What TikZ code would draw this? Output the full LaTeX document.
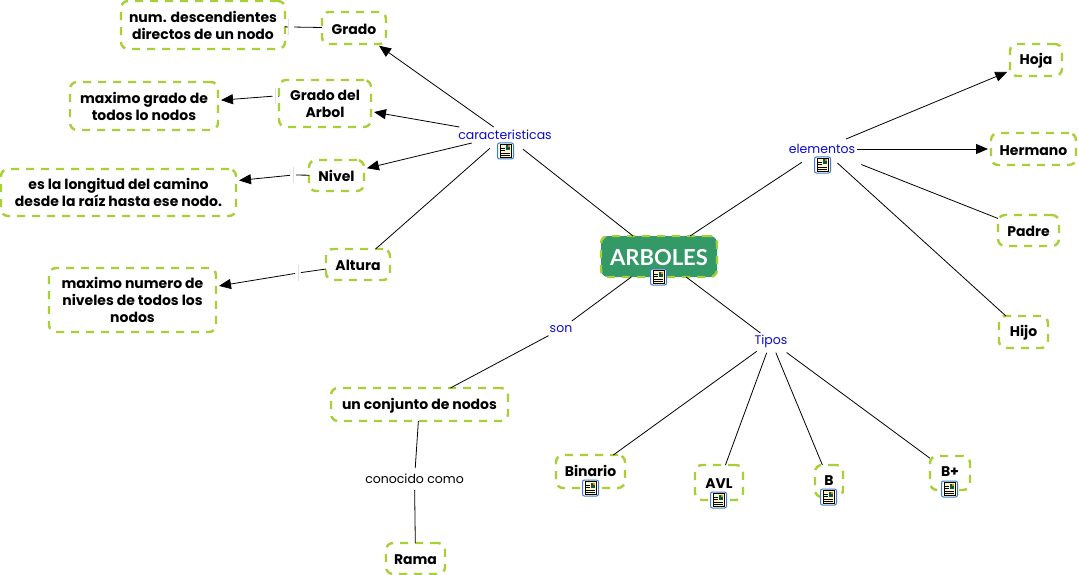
\documentclass[tikz,border=0pt]{standalone}
\usepackage{fontspec}
\setmainfont{Poppins}
\newfontfamily\titlefont{Lato}
\usetikzlibrary{arrows.meta}
\definecolor{dashgreen}{HTML}{A9CF38}
\definecolor{rootgreen}{HTML}{339966}
\definecolor{linkblue}{HTML}{0A0ACC}
\definecolor{iconblue}{HTML}{3C7FC8}
\definecolor{iconpaper}{HTML}{FFF6C0}
\tikzset{
  x=1pt,y=-1pt,
  concept/.style={draw=dashgreen,fill=white,line width=2.4pt,dash pattern=on 8pt off 7pt,rounded corners=7pt,
    inner sep=0pt,outer sep=0pt,align=center,text=black,font=\fontsize{14}{17}\selectfont\bfseries,
    execute at begin node={\rule{0pt}{13pt}}},
  rootnode/.style={concept,fill=rootgreen,text=white,font=\fontsize{22}{26}\selectfont\titlefont\bfseries,
    execute at begin node={\rule{0pt}{18pt}}},
  linkphrase/.style={inner sep=0pt,outer sep=0pt,align=center,text=linkblue,font=\fontsize{12.5}{15}\selectfont},
  blank/.style={inner sep=0pt,outer sep=0pt,minimum width=6pt,minimum height=16pt},
  conn/.style={draw=black,line width=0.8pt},
  arr/.style={conn,-{Triangle[length=12pt,width=10pt]},shorten >=3pt},
  ticktrace/.style={draw=black!12,line width=0.8pt},
  noteicon/.pic={
    \draw[iconblue,fill=white,line width=1pt,rounded corners=2pt] (-8,-8) rectangle (8,8);
    \fill[iconpaper] (-5.5,-6.5) rectangle (5.5,6.5);
    \draw[black,line width=0.5pt] (-5.5,-6.5) rectangle (5.5,6.5);
    \fill[teal!70!black] (0,-5.5) rectangle (4.5,-0.5);
    \fill[orange] (2.5,-5.5) rectangle (4.5,-3.5);
    \foreach \yy in {-3,-0.5,2,4.5}{\draw[black,line width=0.6pt] (-4.5,\yy) -- (\ifdim\yy pt<0pt -1\else 4.5\fi,\yy);}
  }
}
\begin{document}
\begin{tikzpicture}
\useasboundingbox (0,0) rectangle (1079,575);
% concepts
\node[concept,minimum width=164pt,minimum height=48pt] (num) at (203,25) {num. descendientes\\directos de un nodo};
\node[concept,minimum width=64pt,minimum height=32pt] (grado) at (354,28) {Grado};
\node[concept,minimum width=92pt,minimum height=47pt] (gradoarbol) at (325,103.5) {Grado del\\Arbol};
\node[concept,minimum width=148pt,minimum height=48pt] (maxgrado) at (144,106) {maximo grado de\\todos lo nodos};
\node[concept,minimum width=55pt,minimum height=31pt] (nivel) at (336.5,175.5) {Nivel};
\node[concept,minimum width=235pt,minimum height=47pt] (longitud) at (118.5,192.5) {es la longitud del camino\\desde la raíz hasta ese nodo.};
\node[concept,minimum width=64pt,minimum height=31pt] (altura) at (358,264.5) {Altura};
\node[concept,minimum width=167pt,minimum height=64pt] (maxnum) at (132.5,300) {maximo numero de\\niveles de todos los\\nodos};
\node[rootnode,minimum width=116pt,minimum height=41pt] (arboles) at (659,256.5) {ARBOLES};
\node[concept,minimum width=177pt,minimum height=33pt] (conjunto) at (419.5,404.5) {un conjunto de nodos};
\node[concept,minimum width=59pt,minimum height=31pt] (rama) at (415.5,558.5) {Rama};
\node[concept,minimum width=69pt,minimum height=33pt] (binario) at (590.5,471.5) {\raisebox{2pt}{Binario}};
\node[concept,minimum width=48pt,minimum height=35pt] (avl) at (719,482.5) {\raisebox{1pt}{AVL}};
\node[concept,minimum width=28pt,minimum height=32pt] (b) at (829,481) {\raisebox{2pt}{B}};
\node[concept,minimum width=40pt,minimum height=34pt] (bplus) at (950,473) {\raisebox{3pt}{B+}};
\node[concept,minimum width=52pt,minimum height=32pt] (hoja) at (1036,60) {Hoja};
\node[concept,minimum width=85pt,minimum height=32pt] (hermano) at (1033.5,149) {Hermano};
\node[concept,minimum width=61pt,minimum height=31pt] (padre) at (1028.5,230.5) {Padre};
\node[concept,minimum width=49pt,minimum height=32pt] (hijo) at (1023.5,332) {Hijo};
% linking phrases
\node[linkphrase,minimum width=93pt,minimum height=16pt] (car) at (505,135) {caracteristicas};
\node[linkphrase,minimum width=69pt,minimum height=20pt] (ele) at (822,149) {elementos};
\node[linkphrase,minimum width=25pt,minimum height=16pt] (son) at (561,329) {son};
\node[linkphrase,minimum width=35pt,minimum height=16pt] (tipos) at (771,341) {Tipos};
\node[linkphrase,text=black,minimum width=98pt,minimum height=22pt] (conocido) at (414.5,479) {conocido como};
\node[blank] (b1) at (291,27) {};
\node[blank] (b2) at (275.5,96) {};
\node[blank] (b3) at (293,175) {};
\node[blank] (b4) at (298,273) {};
% connectors
\draw[arr] (car) -- (grado);
\draw[arr] (car) -- (gradoarbol);
\draw[arr] (car) -- (nivel);
\draw[conn,shorten <=8pt] (car) -- (altura);
\draw[conn,shorten <=10pt] (car) -- (arboles);
\draw[conn,shorten >=6pt] (arboles) -- (ele);
\draw[arr] (ele) -- (hoja);
\draw[arr] (ele) -- (hermano);
\draw[conn,shorten <=15pt] (ele) -- (padre);
\draw[conn,shorten <=6pt] (ele) -- (hijo);
\draw[conn] (arboles) -- (son);
\draw[conn] (son) -- (conjunto);
\draw[conn] (arboles) -- (tipos);
\draw[conn,shorten <=4pt] (tipos) -- (binario);
\draw[conn,shorten <=4pt] (tipos) -- (avl);
\draw[conn,shorten <=4pt] (tipos) -- (b);
\draw[conn,shorten <=6pt] (tipos) -- (bplus);
\draw[conn] (conjunto) -- (conocido);
\draw[conn] (conocido) -- (rama);
\draw[conn] (grado) -- (b1);
\draw[conn] (b1) -- (num);
\draw[conn] (gradoarbol) -- (b2);
\draw[arr] (b2) -- (maxgrado);
\draw[conn] (nivel) -- (b3);
\draw[arr] (b3) -- (longitud);
\draw[conn] (altura) -- (b4);
\draw[arr] (b4) -- (maxnum);
\draw[ticktrace] (b1.north west) -- (b1.south west);
\draw[ticktrace] (b2.north) -- (b2.south);
\draw[ticktrace] (b3.north) -- (b3.south);
\draw[ticktrace] (b4.north) -- (b4.south);
% note icons
\pic at (658.5,277) {noteicon};
\pic at (505.5,151) {noteicon};
\pic at (822.5,165) {noteicon};
\pic at (590.5,488) {noteicon};
\pic at (718.5,500) {noteicon};
\pic at (828.5,497) {noteicon};
\pic at (949.5,489) {noteicon};
\end{tikzpicture}
\end{document}
